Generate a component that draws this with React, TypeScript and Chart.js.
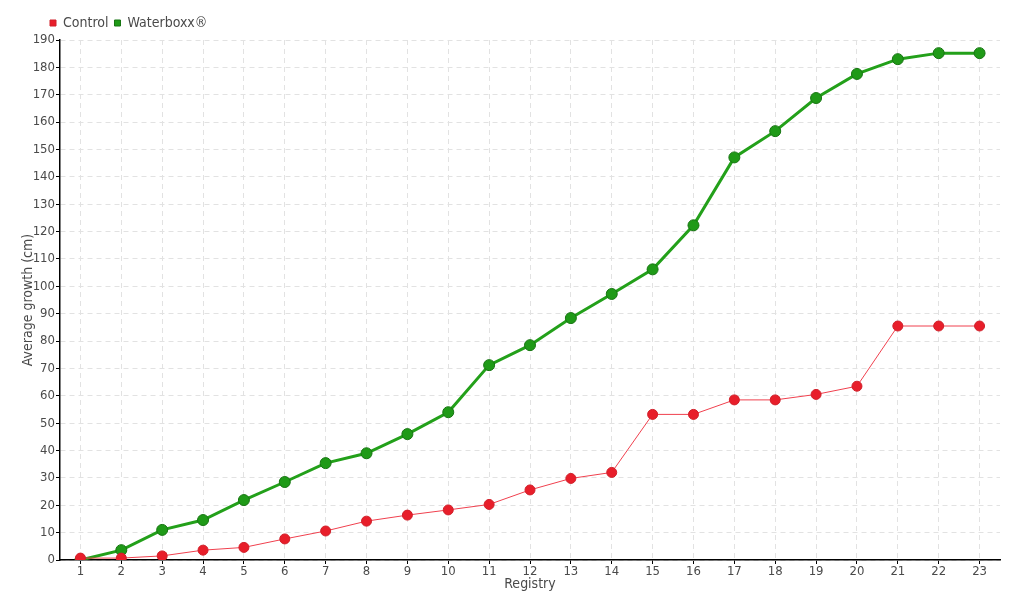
import React, { useEffect, useRef } from "react";
import { Chart, registerables } from "chart.js";

Chart.register(...registerables);

const categories = ["1","2","3","4","5","6","7","8","9","10","11","12","13","14","15","16","17","18","19","20","21","22","23"];
const controlValues = [0.7, 0.7, 1.5, 3.6, 4.6, 7.7, 10.6, 14.2, 16.4, 18.3, 20.3, 25.6, 29.8, 32.0, 53.2, 53.2, 58.5, 58.5, 60.5, 63.5, 85.5, 85.5, 85.5];
const waterboxxValues = [0, 3.6, 11, 14.6, 21.9, 28.5, 35.4, 39, 46, 54, 71.2, 78.5, 88.4, 97.2, 106.2, 122.3, 147.1, 156.7, 168.8, 177.6, 183, 185.2, 185.2];
const seriesNames = ["Control", "Waterboxx®"];
const xTitle = "Registry";
const yTitle = "Average growth (cm)";

const FONT = "'DejaVu Sans Condensed', sans-serif";
const TEXT = "#4a4a4a";

const legendShift = {
  id: "legendShift",
  beforeDraw(chart: any) {
    if (chart.legend) {
      const dx = 44 - chart.legend.left;
      chart.legend.left += dx;
      chart.legend.right += dx;
    }
  },
};

export default function App() {
  const ref = useRef<HTMLCanvasElement | null>(null);
  useEffect(() => {
    if (!ref.current) return;
    Chart.defaults.font.family = FONT;
    const chart = new Chart(ref.current, {
      type: "line",
      data: {
        labels: categories,
        datasets: [
          {
            label: seriesNames[0],
            data: controlValues,
            borderColor: "#f0404e",
            backgroundColor: "#e81e2a",
            borderWidth: 1,
            pointRadius: 5,
            pointHoverRadius: 5,
            pointBackgroundColor: "#e81e2a",
            pointBorderColor: "#d0202a",
            pointBorderWidth: 1,
            tension: 0,
          },
          {
            label: seriesNames[1],
            data: waterboxxValues,
            borderColor: "#23a01a",
            backgroundColor: "#1f9a17",
            borderWidth: 3,
            pointRadius: 5.5,
            pointHoverRadius: 5.5,
            pointBackgroundColor: "#1f9a17",
            pointBorderColor: "#177512",
            pointBorderWidth: 1,
            tension: 0,
          },
        ],
      },
      plugins: [legendShift],
      options: {
        animation: false,
        responsive: false,
        maintainAspectRatio: false,
        layout: { padding: { left: 20, right: 20, top: 10, bottom: 9 } },
        plugins: {
          tooltip: { enabled: false },
          legend: {
            position: "top",
            align: "start",
            labels: {
              usePointStyle: true,
              pointStyle: "rect",
              boxWidth: 6,
              boxHeight: 6,
              padding: 6,
              color: TEXT,
              font: { size: 14, family: FONT },
            },
          },
        },
        scales: {
          x: {
            type: "category",
            offset: true,
            title: { display: true, text: xTitle, color: TEXT, font: { size: 14, family: FONT, lineHeight: 1 }, padding: { top: -2, bottom: 0 } },
            ticks: { color: TEXT, font: { size: 13, family: FONT, lineHeight: 1 }, padding: 1, maxRotation: 0, autoSkip: false },
            grid: {
              color: "#e2e2e2",
              lineWidth: 1,
              tickLength: 4,
              tickColor: "#000",
              tickBorderDash: [],
            },
            border: { display: true, color: "#000", width: 1.5, dash: [5, 4] },
          },
          y: {
            min: 0,
            max: 190,
            afterFit: (scale: any) => { scale.width = 40; },
            title: { display: true, text: yTitle, color: TEXT, font: { size: 14, family: FONT, lineHeight: 1 }, padding: { top: 1, bottom: 0 } },
            ticks: { stepSize: 10, color: TEXT, font: { size: 13, family: FONT }, padding: 1 },
            grid: {
              color: "#e2e2e2",
              lineWidth: 1,
              tickLength: 4,
              tickColor: "#000",
              tickBorderDash: [],
            },
            border: { display: true, color: "#000", width: 1.5, dash: [5, 4] },
          },
        },
      },
    });
    return () => chart.destroy();
  }, []);
  return (
    <div style={{ position: "fixed", left: 0, top: 0, width: 1020, height: 600, background: "#fff" }}>
      <canvas ref={ref} width={1020} height={600} style={{ width: 1020, height: 600 }} />
    </div>
  );
}
